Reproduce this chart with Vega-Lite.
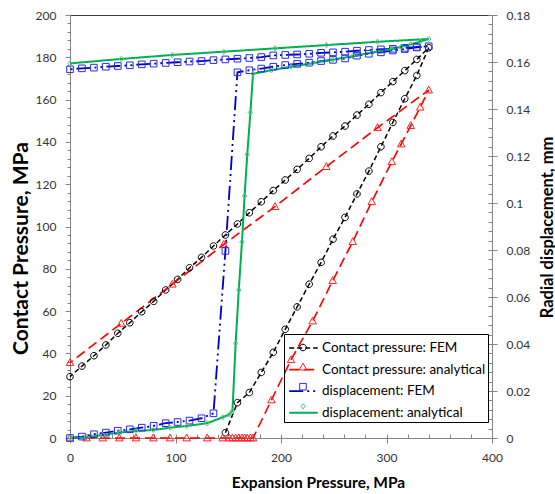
{
  "$schema": "https://vega.github.io/schema/vega-lite/v6.json",
  "width": 422,
  "height": 423,
  "autosize": {"type": "none"},
  "padding": {"left": 70, "top": 15, "right": 63, "bottom": 56},
  "background": "white",
  "config": {
    "view": {"stroke": "#404040", "strokeWidth": 1},
    "axis": {"labelFont": "Lato", "titleFont": "Lato", "domainColor": "#868686", "tickColor": "#868686", "grid": false, "labelColor": "#333333", "titleColor": "#000000", "labelFontSize": 12}
  },
  "data": {"values": [
    {"s":"Contact pressure: FEM","x":147.3,"y":2.5,"k":1},
    {"s":"Contact pressure: FEM","x":158.7,"y":16.7,"k":2},
    {"s":"Contact pressure: FEM","x":170,"y":21.5,"k":3},
    {"s":"Contact pressure: FEM","x":181.3,"y":31,"k":4},
    {"s":"Contact pressure: FEM","x":192.7,"y":40.5,"k":5},
    {"s":"Contact pressure: FEM","x":204,"y":51.4,"k":6},
    {"s":"Contact pressure: FEM","x":215.3,"y":62,"k":7},
    {"s":"Contact pressure: FEM","x":226.7,"y":72.7,"k":8},
    {"s":"Contact pressure: FEM","x":238,"y":83,"k":9},
    {"s":"Contact pressure: FEM","x":249.3,"y":94,"k":10},
    {"s":"Contact pressure: FEM","x":260.7,"y":104.3,"k":11},
    {"s":"Contact pressure: FEM","x":272,"y":115.4,"k":12},
    {"s":"Contact pressure: FEM","x":283.3,"y":126.2,"k":13},
    {"s":"Contact pressure: FEM","x":294.7,"y":137.7,"k":14},
    {"s":"Contact pressure: FEM","x":306,"y":149.2,"k":15},
    {"s":"Contact pressure: FEM","x":317.3,"y":160.4,"k":16},
    {"s":"Contact pressure: FEM","x":328.7,"y":171.4,"k":17},
    {"s":"Contact pressure: FEM","x":340,"y":184.5,"k":18},
    {"s":"Contact pressure: FEM","x":328.7,"y":179,"k":19},
    {"s":"Contact pressure: FEM","x":317.3,"y":173.7,"k":20},
    {"s":"Contact pressure: FEM","x":306,"y":168.5,"k":21},
    {"s":"Contact pressure: FEM","x":294.7,"y":163.3,"k":22},
    {"s":"Contact pressure: FEM","x":283.3,"y":157.8,"k":23},
    {"s":"Contact pressure: FEM","x":272,"y":152.7,"k":24},
    {"s":"Contact pressure: FEM","x":260.7,"y":147.5,"k":25},
    {"s":"Contact pressure: FEM","x":249.3,"y":142.8,"k":26},
    {"s":"Contact pressure: FEM","x":238,"y":137.7,"k":27},
    {"s":"Contact pressure: FEM","x":226.7,"y":132.2,"k":28},
    {"s":"Contact pressure: FEM","x":215.3,"y":127,"k":29},
    {"s":"Contact pressure: FEM","x":204,"y":122,"k":30},
    {"s":"Contact pressure: FEM","x":192.7,"y":117,"k":31},
    {"s":"Contact pressure: FEM","x":181.3,"y":111.7,"k":32},
    {"s":"Contact pressure: FEM","x":170,"y":106.5,"k":33},
    {"s":"Contact pressure: FEM","x":158.7,"y":101.2,"k":34},
    {"s":"Contact pressure: FEM","x":147.3,"y":96,"k":35},
    {"s":"Contact pressure: FEM","x":136,"y":90.8,"k":36},
    {"s":"Contact pressure: FEM","x":124.7,"y":85.4,"k":37},
    {"s":"Contact pressure: FEM","x":113.3,"y":80.5,"k":38},
    {"s":"Contact pressure: FEM","x":102,"y":75,"k":39},
    {"s":"Contact pressure: FEM","x":90.7,"y":70,"k":40},
    {"s":"Contact pressure: FEM","x":79.3,"y":64.6,"k":41},
    {"s":"Contact pressure: FEM","x":68,"y":59.7,"k":42},
    {"s":"Contact pressure: FEM","x":56.7,"y":54.5,"k":43},
    {"s":"Contact pressure: FEM","x":45.3,"y":49.5,"k":44},
    {"s":"Contact pressure: FEM","x":34,"y":44,"k":45},
    {"s":"Contact pressure: FEM","x":22.7,"y":38.9,"k":46},
    {"s":"Contact pressure: FEM","x":11.3,"y":34,"k":47},
    {"s":"Contact pressure: FEM","x":0,"y":29,"k":48},

    {"s":"Contact pressure: analytical","x":0,"y":0,"k":1},
    {"s":"Contact pressure: analytical","x":15.7,"y":0,"k":2},
    {"s":"Contact pressure: analytical","x":31,"y":0,"k":3},
    {"s":"Contact pressure: analytical","x":46.7,"y":0,"k":4},
    {"s":"Contact pressure: analytical","x":62.6,"y":0,"k":5},
    {"s":"Contact pressure: analytical","x":79,"y":0,"k":6},
    {"s":"Contact pressure: analytical","x":94.8,"y":0,"k":7},
    {"s":"Contact pressure: analytical","x":110.6,"y":0,"k":8},
    {"s":"Contact pressure: analytical","x":130,"y":0,"k":9},
    {"s":"Contact pressure: analytical","x":144.7,"y":0,"k":10},
    {"s":"Contact pressure: analytical","x":151,"y":0,"k":11},
    {"s":"Contact pressure: analytical","x":154,"y":0,"k":12},
    {"s":"Contact pressure: analytical","x":157,"y":0,"k":13},
    {"s":"Contact pressure: analytical","x":160,"y":0,"k":14},
    {"s":"Contact pressure: analytical","x":163,"y":0,"k":15},
    {"s":"Contact pressure: analytical","x":165.5,"y":0,"k":16},
    {"s":"Contact pressure: analytical","x":168,"y":0,"k":17},
    {"s":"Contact pressure: analytical","x":171,"y":0,"k":18},
    {"s":"Contact pressure: analytical","x":173.5,"y":0,"k":19},
    {"s":"Contact pressure: analytical","x":191,"y":18,"k":20},
    {"s":"Contact pressure: analytical","x":209.5,"y":37,"k":21},
    {"s":"Contact pressure: analytical","x":230,"y":55.3,"k":22},
    {"s":"Contact pressure: analytical","x":249,"y":74.4,"k":23},
    {"s":"Contact pressure: analytical","x":268,"y":92.8,"k":24},
    {"s":"Contact pressure: analytical","x":286,"y":111.7,"k":25},
    {"s":"Contact pressure: analytical","x":305,"y":130.6,"k":26},
    {"s":"Contact pressure: analytical","x":314,"y":139,"k":27},
    {"s":"Contact pressure: analytical","x":323,"y":147.7,"k":28},
    {"s":"Contact pressure: analytical","x":332,"y":156.4,"k":29},
    {"s":"Contact pressure: analytical","x":340,"y":164.5,"k":30},
    {"s":"Contact pressure: analytical","x":291.5,"y":146.7,"k":31},
    {"s":"Contact pressure: analytical","x":243,"y":128.3,"k":32},
    {"s":"Contact pressure: analytical","x":194.3,"y":109.4,"k":33},
    {"s":"Contact pressure: analytical","x":145.7,"y":91.5,"k":34},
    {"s":"Contact pressure: analytical","x":97,"y":72.7,"k":35},
    {"s":"Contact pressure: analytical","x":48.6,"y":54.2,"k":36},
    {"s":"Contact pressure: analytical","x":0,"y":35.6,"k":37},

    {"s":"displacement: FEM","x":0,"y":0,"k":1},
    {"s":"displacement: FEM","x":11.3,"y":0.0006,"k":2},
    {"s":"displacement: FEM","x":22.7,"y":0.0016,"k":3},
    {"s":"displacement: FEM","x":34,"y":0.0023,"k":4},
    {"s":"displacement: FEM","x":45.3,"y":0.0031,"k":5},
    {"s":"displacement: FEM","x":56.7,"y":0.0037,"k":6},
    {"s":"displacement: FEM","x":68,"y":0.0044,"k":7},
    {"s":"displacement: FEM","x":79.3,"y":0.0052,"k":8},
    {"s":"displacement: FEM","x":90.7,"y":0.0063,"k":9},
    {"s":"displacement: FEM","x":102,"y":0.0068,"k":10},
    {"s":"displacement: FEM","x":113.3,"y":0.0074,"k":11},
    {"s":"displacement: FEM","x":124.7,"y":0.0084,"k":12},
    {"s":"displacement: FEM","x":136,"y":0.0105,"k":13},
    {"s":"displacement: FEM","x":147.3,"y":0.0796,"k":14},
    {"s":"displacement: FEM","x":158.7,"y":0.1556,"k":15},
    {"s":"displacement: FEM","x":170,"y":0.1565,"k":16},
    {"s":"displacement: FEM","x":181.3,"y":0.1572,"k":17},
    {"s":"displacement: FEM","x":192.7,"y":0.158,"k":18},
    {"s":"displacement: FEM","x":204,"y":0.1587,"k":19},
    {"s":"displacement: FEM","x":215.3,"y":0.1592,"k":20},
    {"s":"displacement: FEM","x":226.7,"y":0.1597,"k":21},
    {"s":"displacement: FEM","x":238,"y":0.1604,"k":22},
    {"s":"displacement: FEM","x":249.3,"y":0.1609,"k":23},
    {"s":"displacement: FEM","x":260.7,"y":0.1615,"k":24},
    {"s":"displacement: FEM","x":272,"y":0.1627,"k":25},
    {"s":"displacement: FEM","x":283.3,"y":0.1635,"k":26},
    {"s":"displacement: FEM","x":294.7,"y":0.1641,"k":27},
    {"s":"displacement: FEM","x":306,"y":0.1649,"k":28},
    {"s":"displacement: FEM","x":317.3,"y":0.1655,"k":29},
    {"s":"displacement: FEM","x":328.7,"y":0.1662,"k":30},
    {"s":"displacement: FEM","x":340,"y":0.1667,"k":31},
    {"s":"displacement: FEM","x":328.7,"y":0.1664,"k":32},
    {"s":"displacement: FEM","x":317.3,"y":0.166,"k":33},
    {"s":"displacement: FEM","x":306,"y":0.1656,"k":34},
    {"s":"displacement: FEM","x":294.7,"y":0.1654,"k":35},
    {"s":"displacement: FEM","x":283.3,"y":0.1651,"k":36},
    {"s":"displacement: FEM","x":272,"y":0.1648,"k":37},
    {"s":"displacement: FEM","x":260.7,"y":0.1644,"k":38},
    {"s":"displacement: FEM","x":249.3,"y":0.1641,"k":39},
    {"s":"displacement: FEM","x":238,"y":0.1639,"k":40},
    {"s":"displacement: FEM","x":226.7,"y":0.1635,"k":41},
    {"s":"displacement: FEM","x":215.3,"y":0.1632,"k":42},
    {"s":"displacement: FEM","x":204,"y":0.163,"k":43},
    {"s":"displacement: FEM","x":192.7,"y":0.1628,"k":44},
    {"s":"displacement: FEM","x":181.3,"y":0.1621,"k":45},
    {"s":"displacement: FEM","x":170,"y":0.1617,"k":46},
    {"s":"displacement: FEM","x":158.7,"y":0.1614,"k":47},
    {"s":"displacement: FEM","x":147.3,"y":0.1611,"k":48},
    {"s":"displacement: FEM","x":136,"y":0.1608,"k":49},
    {"s":"displacement: FEM","x":124.7,"y":0.1604,"k":50},
    {"s":"displacement: FEM","x":113.3,"y":0.1602,"k":51},
    {"s":"displacement: FEM","x":102,"y":0.1599,"k":52},
    {"s":"displacement: FEM","x":90.7,"y":0.1596,"k":53},
    {"s":"displacement: FEM","x":79.3,"y":0.1593,"k":54},
    {"s":"displacement: FEM","x":68,"y":0.159,"k":55},
    {"s":"displacement: FEM","x":56.7,"y":0.1586,"k":56},
    {"s":"displacement: FEM","x":45.3,"y":0.1583,"k":57},
    {"s":"displacement: FEM","x":34,"y":0.158,"k":58},
    {"s":"displacement: FEM","x":22.7,"y":0.1576,"k":59},
    {"s":"displacement: FEM","x":11.3,"y":0.1573,"k":60},
    {"s":"displacement: FEM","x":0,"y":0.1569,"k":61},

    {"s":"displacement: analytical","x":0,"y":0,"k":1},
    {"s":"displacement: analytical","x":15.7,"y":0.0003,"k":2},
    {"s":"displacement: analytical","x":31,"y":0.0013,"k":3},
    {"s":"displacement: analytical","x":46.7,"y":0.0023,"k":4},
    {"s":"displacement: analytical","x":62.6,"y":0.003,"k":5},
    {"s":"displacement: analytical","x":79,"y":0.0034,"k":6},
    {"s":"displacement: analytical","x":94.8,"y":0.0044,"k":7},
    {"s":"displacement: analytical","x":110.6,"y":0.0051,"k":8},
    {"s":"displacement: analytical","x":130,"y":0.0063,"k":9},
    {"s":"displacement: analytical","x":144.7,"y":0.0088,"k":10},
    {"s":"displacement: analytical","x":151,"y":0.01,"k":11},
    {"s":"displacement: analytical","x":154,"y":0.0115,"k":12},
    {"s":"displacement: analytical","x":157,"y":0.0403,"k":13},
    {"s":"displacement: analytical","x":160,"y":0.063,"k":14},
    {"s":"displacement: analytical","x":163,"y":0.0835,"k":15},
    {"s":"displacement: analytical","x":165.5,"y":0.103,"k":16},
    {"s":"displacement: analytical","x":168,"y":0.1207,"k":17},
    {"s":"displacement: analytical","x":171,"y":0.1385,"k":18},
    {"s":"displacement: analytical","x":173.5,"y":0.155,"k":19},
    {"s":"displacement: analytical","x":191,"y":0.1565,"k":20},
    {"s":"displacement: analytical","x":209.5,"y":0.158,"k":21},
    {"s":"displacement: analytical","x":230,"y":0.1595,"k":22},
    {"s":"displacement: analytical","x":249,"y":0.161,"k":23},
    {"s":"displacement: analytical","x":268,"y":0.1625,"k":24},
    {"s":"displacement: analytical","x":286,"y":0.164,"k":25},
    {"s":"displacement: analytical","x":305,"y":0.1655,"k":26},
    {"s":"displacement: analytical","x":314,"y":0.1665,"k":27},
    {"s":"displacement: analytical","x":323,"y":0.1675,"k":28},
    {"s":"displacement: analytical","x":332,"y":0.1687,"k":29},
    {"s":"displacement: analytical","x":340,"y":0.1698,"k":30},
    {"s":"displacement: analytical","x":291.5,"y":0.1686,"k":31},
    {"s":"displacement: analytical","x":243,"y":0.1672,"k":32},
    {"s":"displacement: analytical","x":194.3,"y":0.1658,"k":33},
    {"s":"displacement: analytical","x":145.7,"y":0.1644,"k":34},
    {"s":"displacement: analytical","x":97,"y":0.163,"k":35},
    {"s":"displacement: analytical","x":48.6,"y":0.1613,"k":36},
    {"s":"displacement: analytical","x":0,"y":0.1594,"k":37}
  ]},
  "layer": [
    {
      "transform": [{"filter": "indexof(datum.s, 'Contact') == 0"}],
      "mark": {"type": "line"},
      "encoding": {
        "x": {"field": "x", "type": "quantitative", "scale": {"domain": [0, 400], "nice": false},
              "axis": {"orient": "bottom", "values": [0, 100, 200, 300, 400], "title": "Expansion Pressure, MPa", "titleFontSize": 15.5, "titleFontWeight": "bold", "titleX": 248, "titleY": 44, "titleAlign": "center", "titleBaseline": "middle", "titleAnchor": null, "labelPadding": 9, "tickSize": 5, "labelFlush": false}},
        "y": {"field": "y", "type": "quantitative", "scale": {"domain": [0, 200], "nice": false},
              "axis": {"orient": "left", "values": [0, 20, 40, 60, 80, 100, 120, 140, 160, 180, 200], "title": "Contact Pressure, MPa", "titleFontSize": 21, "titleFontWeight": "bold", "titleAngle": -90, "titleX": -49, "titleY": 233, "titleAlign": "center", "titleBaseline": "middle", "titleAnchor": null, "labelPadding": 9, "tickSize": 5}},
        "stroke": {"field": "s", "type": "nominal",
                  "scale": {"domain": ["Contact pressure: FEM", "Contact pressure: analytical", "displacement: FEM", "displacement: analytical"], "range": ["#000000", "#FF0000", "#0000CC", "#00B050"]},
                  "legend": {"orient": "none", "legendX": 214, "legendY": 319, "title": null, "symbolType": "M-1.3,0H1.3", "symbolSize": 484, "symbolStrokeWidth": 2, "symbolOffset": 5.5, "labelOffset": 6.5, "labelFont": "Lato", "labelFontSize": 13.5, "labelColor": "#000000", "rowPadding": 2.6, "padding": 2, "strokeColor": "#000000", "labelLimit": 300}},
        "strokeDash": {"field": "s", "type": "nominal",
                  "scale": {"domain": ["Contact pressure: FEM", "Contact pressure: analytical", "displacement: FEM", "displacement: analytical"], "range": [[5, 3], [10, 5], [14, 4, 2, 4, 2, 4], [1, 0]]},
                  "legend": {"orient": "none", "legendX": 214, "legendY": 319, "title": null, "symbolType": "M-1.3,0H1.3", "symbolSize": 484, "symbolStrokeWidth": 2, "symbolOffset": 5.5, "labelOffset": 6.5, "labelFont": "Lato", "labelFontSize": 13.5, "labelColor": "#000000", "rowPadding": 2.6, "padding": 2, "strokeColor": "#000000", "labelLimit": 300}},
        "strokeWidth": {"field": "s", "type": "nominal", "scale": {"domain": ["Contact pressure: FEM", "Contact pressure: analytical", "displacement: FEM", "displacement: analytical"], "range": [1.5, 2, 3, 3]}, "legend": null},
        "order": {"field": "k", "type": "quantitative"}
      }
    },
    {
      "transform": [{"filter": "indexof(datum.s, 'displacement') == 0"}],
      "mark": {"type": "line"},
      "encoding": {
        "x": {"field": "x", "type": "quantitative", "scale": {"domain": [0, 400], "nice": false}, "axis": null},
        "y": {"field": "y", "type": "quantitative", "scale": {"domain": [0, 0.18], "nice": false},
              "axis": {"orient": "right", "values": [0, 0.02, 0.04, 0.06, 0.08, 0.1, 0.12, 0.14, 0.16, 0.18], "format": ".2~f", "title": "Radial displacement, mm", "titleFontSize": 16.5, "titleFontWeight": "bold", "titleAngle": -90, "titleX": 55, "titleY": 212, "titleAlign": "center", "titleBaseline": "middle", "titleAnchor": null, "labelPadding": 9, "tickSize": 5}},
        "stroke": {"field": "s", "type": "nominal",
                  "scale": {"domain": ["Contact pressure: FEM", "Contact pressure: analytical", "displacement: FEM", "displacement: analytical"], "range": ["#000000", "#FF0000", "#0000CC", "#00B050"]},
                  "legend": {"orient": "none", "legendX": 214, "legendY": 319, "title": null, "symbolType": "M-1.3,0H1.3", "symbolSize": 484, "symbolStrokeWidth": 2, "symbolOffset": 5.5, "labelOffset": 6.5, "labelFont": "Lato", "labelFontSize": 13.5, "labelColor": "#000000", "rowPadding": 2.6, "padding": 2, "strokeColor": "#000000", "labelLimit": 300}},
        "strokeDash": {"field": "s", "type": "nominal",
                  "scale": {"domain": ["Contact pressure: FEM", "Contact pressure: analytical", "displacement: FEM", "displacement: analytical"], "range": [[5, 3], [10, 5], [14, 4, 2, 4, 2, 4], [1, 0]]},
                  "legend": {"orient": "none", "legendX": 214, "legendY": 319, "title": null, "symbolType": "M-1.3,0H1.3", "symbolSize": 484, "symbolStrokeWidth": 2, "symbolOffset": 5.5, "labelOffset": 6.5, "labelFont": "Lato", "labelFontSize": 13.5, "labelColor": "#000000", "rowPadding": 2.6, "padding": 2, "strokeColor": "#000000", "labelLimit": 300}},
        "strokeWidth": {"field": "s", "type": "nominal", "scale": {"domain": ["Contact pressure: FEM", "Contact pressure: analytical", "displacement: FEM", "displacement: analytical"], "range": [1.5, 2, 3, 3]}, "legend": null},
        "order": {"field": "k", "type": "quantitative"}
      }
    },
    {
      "transform": [{"filter": "indexof(datum.s, 'Contact') == 0"}],
      "mark": {"type": "point", "filled": false, "size": 484, "strokeWidth": 1, "opacity": 1},
      "encoding": {
        "x": {"field": "x", "type": "quantitative", "scale": {"domain": [0, 400], "nice": false},
              "axis": {"orient": "bottom", "values": [0, 20, 40, 60, 80, 100, 120, 140, 160, 180, 200, 220, 240, 260, 280, 300, 320, 340, 360, 380, 400], "labels": false, "domain": false, "tickSize": -4, "title": null}},
        "y": {"field": "y", "type": "quantitative", "scale": {"domain": [0, 200], "nice": false},
              "axis": {"orient": "left", "values": [0, 4, 8, 12, 16, 20, 24, 28, 32, 36, 40, 44, 48, 52, 56, 60, 64, 68, 72, 76, 80, 84, 88, 92, 96, 100, 104, 108, 112, 116, 120, 124, 128, 132, 136, 140, 144, 148, 152, 156, 160, 164, 168, 172, 176, 180, 184, 188, 192, 196, 200], "labels": false, "domain": false, "tickSize": 3, "title": null}},
        "color": {"field": "s", "type": "nominal",
                  "scale": {"range": ["#000000", "#FF2020", "#2A2AE8", "#55C77E"]},
                  "legend": {"orient": "none", "legendX": 214, "legendY": 319, "title": null, "symbolSize": 484, "symbolStrokeWidth": 1, "symbolOffset": 5.5, "labelOffset": 0, "labelFont": "Lato", "labelFontSize": 1, "labelExpr": "''", "rowPadding": 2.6, "padding": 2, "labelLimit": 1}},
        "shape": {"field": "s", "type": "nominal",
                  "scale": {"range": ["M-0.3,0A0.3,0.3,0,1,1,0.3,0A0.3,0.3,0,1,1,-0.3,0Z", "M0,-0.36L0.34,0.26L-0.34,0.26Z", "M-0.3,-0.3H0.3V0.3H-0.3Z", "M0,-0.24L0.2,0L0,0.24L-0.2,0Z"]},
                  "legend": {"orient": "none", "legendX": 214, "legendY": 319, "title": null, "symbolSize": 484, "symbolStrokeWidth": 1, "symbolOffset": 5.5, "labelOffset": 0, "labelFont": "Lato", "labelFontSize": 1, "labelExpr": "''", "rowPadding": 2.6, "padding": 2, "labelLimit": 1}}
      }
    },
    {
      "transform": [{"filter": "indexof(datum.s, 'displacement') == 0"}],
      "mark": {"type": "point", "filled": false, "size": 484, "strokeWidth": 1, "opacity": 1},
      "encoding": {
        "x": {"field": "x", "type": "quantitative", "scale": {"domain": [0, 400], "nice": false}, "axis": null},
        "y": {"field": "y", "type": "quantitative", "scale": {"domain": [0, 0.18], "nice": false},
              "axis": {"orient": "right", "values": [0, 0.004, 0.008, 0.012, 0.016, 0.02, 0.024, 0.028, 0.032, 0.036, 0.04, 0.044, 0.048, 0.052, 0.056, 0.06, 0.064, 0.068, 0.072, 0.076, 0.08, 0.084, 0.088, 0.092, 0.096, 0.1, 0.104, 0.108, 0.112, 0.116, 0.12, 0.124, 0.128, 0.132, 0.136, 0.14, 0.144, 0.148, 0.152, 0.156, 0.16, 0.164, 0.168, 0.172, 0.176, 0.18], "labels": false, "domain": false, "tickSize": -4, "title": null}},
        "color": {"field": "s", "type": "nominal",
                  "scale": {"range": ["#000000", "#FF2020", "#2A2AE8", "#55C77E"]},
                  "legend": {"orient": "none", "legendX": 214, "legendY": 319, "title": null, "symbolSize": 484, "symbolStrokeWidth": 1, "symbolOffset": 5.5, "labelOffset": 0, "labelFont": "Lato", "labelFontSize": 1, "labelExpr": "''", "rowPadding": 2.6, "padding": 2, "labelLimit": 1}},
        "shape": {"field": "s", "type": "nominal",
                  "scale": {"range": ["M-0.3,0A0.3,0.3,0,1,1,0.3,0A0.3,0.3,0,1,1,-0.3,0Z", "M0,-0.36L0.34,0.26L-0.34,0.26Z", "M-0.3,-0.3H0.3V0.3H-0.3Z", "M0,-0.24L0.2,0L0,0.24L-0.2,0Z"]},
                  "legend": {"orient": "none", "legendX": 214, "legendY": 319, "title": null, "symbolSize": 484, "symbolStrokeWidth": 1, "symbolOffset": 5.5, "labelOffset": 0, "labelFont": "Lato", "labelFontSize": 1, "labelExpr": "''", "rowPadding": 2.6, "padding": 2, "labelLimit": 1}}
      }
    }
  ],
  "resolve": {"scale": {"x": "independent", "y": "independent"}}
}
